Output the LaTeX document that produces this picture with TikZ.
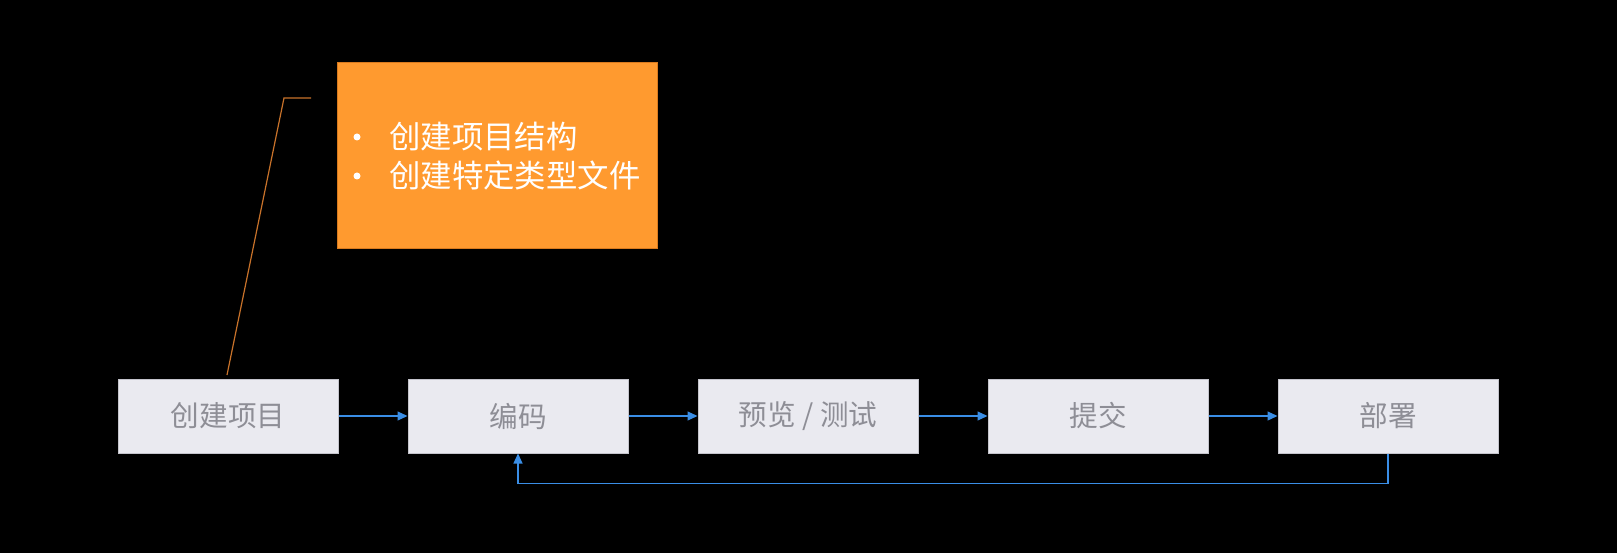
\documentclass[tikz,border=0pt]{standalone}
\usepackage{fontspec}
\setmainfont{Noto Sans CJK SC}
\usetikzlibrary{arrows.meta}
\definecolor{boxfill}{HTML}{EAEAF0}
\definecolor{boxline}{HTML}{C4C4CC}
\definecolor{boxtext}{HTML}{8E8E96}
\definecolor{flowblue}{HTML}{3A8EE6}
\definecolor{orangefill}{HTML}{FF9A2F}
\definecolor{orangeline}{HTML}{D97A1E}
\definecolor{leader}{HTML}{C8722A}
\tikzset{
  stepbox/.style={draw=boxline, line width=1pt, fill=boxfill, minimum width=220pt, minimum height=74pt, inner sep=0pt, text=boxtext, font=\fontsize{28.6}{34}\selectfont},
  flow/.style={draw=flowblue, line width=1.2pt, -{Triangle[length=10pt,width=9pt]}},
  notebox/.style={draw=orangeline, line width=1pt, fill=orangefill, minimum width=320pt, minimum height=186pt, inner sep=0pt},
  notetext/.style={text=white, anchor=west, inner sep=0pt, font=\fontsize{31.4}{36}\selectfont},
  notedot/.style={circle, fill=white, minimum size=7pt, inner sep=0pt},
}
\begin{document}
\begin{tikzpicture}[x=1pt,y=-1pt]
\fill[black] (0,0) rectangle (1617,553);
\useasboundingbox (0,0) rectangle (1617,553);
\node[stepbox] (b1) at (228,416) {创建项目};
\node[stepbox] (b2) at (518,416) {编码};
\node[stepbox] (b3) at (808,416) {预览 / 测试};
\node[stepbox] (b4) at (1098,416) {提交};
\node[stepbox] (b5) at (1388,416) {部署};
\draw[flow] (b1) -- (b2);
\draw[flow] (b2) -- (b3);
\draw[flow] (b3) -- (b4);
\draw[flow] (b4) -- (b5);
\draw[flow] (b5.south) -- ++(0,30) -| (b2.south);
\node[notebox] (note) at (497,156) {};
\node[notedot] (d1) at (357,137) {};
\node[notetext] (t1) at (389,137) {创建项目结构};
\node[notedot] (d2) at (357,176) {};
\node[notetext] (t2) at (389,176) {创建特定类型文件};
\coordinate (lA) at (227,375);
\coordinate (lB) at (284,98);
\coordinate (lC) at (311,98);
\draw[leader, line width=1.2pt] (lA) -- (lB) -- (lC);
\end{tikzpicture}
\end{document}
